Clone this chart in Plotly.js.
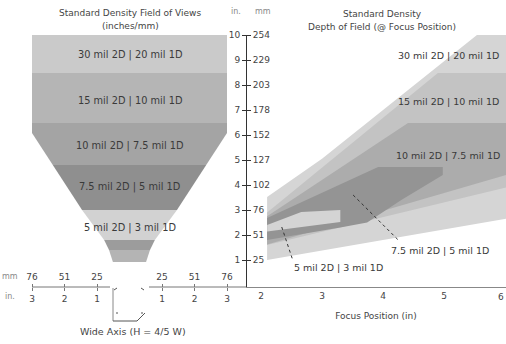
<!DOCTYPE html>
<html><head><meta charset="utf-8">
<script src="https://cdn.plot.ly/plotly-3.0.1.min.js"></script>
<style>html,body{margin:0;padding:0;background:#fff}#chart{width:506px;height:344px}</style>
</head><body><div id="chart"></div>
<script>
// ---------------- data ----------------
const densityLabels = ['30 mil 2D | 20 mil 1D', '15 mil 2D | 10 mil 1D', '10 mil 2D | 7.5 mil 1D', '7.5 mil 2D | 5 mil 1D', '5 mil 2D | 3 mil 1D'];

// Field of view funnel (height in inches, half-width in inches)
const fovBandTop    = [10, 8.48, 6.48, 4.8, 3.0, 1.8, 1.4];
const fovBandBottom = [8.48, 6.48, 4.8, 3.0, 1.8, 1.4, 0.92];
const fovBandColors = ['#cacaca', '#b5b5b5', '#a4a4a4', '#8f8f8f', '#d2d2d2', '#9c9c9c', '#b4b4b4'];
const fovProfileHeight    = [10, 6.08, 3.0, 1.8, 1.4, 0.92];
const fovProfileHalfWidth = [3.0, 3.0, 1.46, 0.78, 0.63, 0.51];

const widthTickVals = [-3, -2, -1, 1, 2, 3];
const widthTickIn   = ['3', '2', '1', '1', '2', '3'];
const widthTickMm   = ['76', '51', '25', '25', '51', '76'];

const heightTickVals = [1, 2, 3, 4, 5, 6, 7, 8, 9, 10];
const heightTickMm   = ['25', '51', '76', '102', '127', '152', '178', '203', '229', '254'];

const focusTickVals = [2, 3, 4, 5];
const focusLastTick = 6;

// Depth of field bands (x = focus position in, y = distance in)
const dof30X = [2.1, 2.1, 3.0, 5.54, 6.02, 6.02];
const dof30Y = [1.0, 3.52, 5.05, 10.0, 10.0, 2.65];
const dof15X = [2.1, 2.1, 4.9, 6.02, 6.02];
const dof15Y = [1.6, 2.9, 8.48, 8.48, 3.9];
const dof10X = [2.1, 2.1, 4.41, 6.02, 6.02];
const dof10Y = [1.62, 2.75, 6.48, 6.48, 4.4];
const dof75X = [2.1, 2.1, 3.92, 4.98, 4.98, 4.3, 3.74, 3.3];
const dof75Y = [1.8, 2.68, 4.72, 4.72, 4.4, 3.4, 2.5, 2.3];
const dof5X  = [2.1, 2.66, 3.3, 3.3, 2.1];
const dof5Y  = [2.4, 2.92, 3.0, 2.52, 2.14];
const dofColors = ['#d5d5d5', '#c3c3c3', '#acacac', '#949494', '#d4d4d4'];

// ---------------- helpers ----------------
const W = 506, H = 344;
const px = x => x / W;
const py = y => 1 - y / H;
function halfWidthAt(h) {
  for (let i = 0; i < fovProfileHeight.length - 1; i++) {
    const h0 = fovProfileHeight[i], h1 = fovProfileHeight[i + 1];
    if (h <= h0 && h >= h1) {
      const t = (h0 - h) / (h0 - h1);
      return fovProfileHalfWidth[i] + t * (fovProfileHalfWidth[i + 1] - fovProfileHalfWidth[i]);
    }
  }
  return fovProfileHalfWidth[fovProfileHalfWidth.length - 1];
}
function bandPolygon(bot, top) {
  const hs = [top];
  fovProfileHeight.forEach(h => { if (h < top && h > bot) hs.push(h); });
  hs.push(bot);
  const xs = [], ys = [];
  hs.forEach(h => { xs.push(-halfWidthAt(h)); ys.push(h); });
  hs.slice().reverse().forEach(h => { xs.push(halfWidthAt(h)); ys.push(h); });
  return {xs, ys};
}

const traces = [];
fovBandTop.forEach((t, i) => {
  const p = bandPolygon(fovBandBottom[i], t);
  traces.push({type: 'scatter', mode: 'lines', x: p.xs, y: p.ys, fill: 'toself',
    fillcolor: fovBandColors[i], line: {width: 0, color: fovBandColors[i]},
    xaxis: 'x', yaxis: 'y', hoverinfo: 'skip', showlegend: false});
});
[[dof30X, dof30Y], [dof15X, dof15Y], [dof10X, dof10Y], [dof75X, dof75Y], [dof5X, dof5Y]].forEach((d, i) => {
  traces.push({type: 'scatter', mode: 'lines', x: d[0], y: d[1], fill: 'toself',
    fillcolor: dofColors[i], line: {width: 0, color: dofColors[i]},
    xaxis: 'x2', yaxis: 'y', hoverinfo: 'skip', showlegend: false});
});
// invisible trace for the mm axes
traces.push({type: 'scatter', x: [0], y: [0], xaxis: 'x3', yaxis: 'y2', mode: 'markers', marker: {opacity: 0}, hoverinfo: 'skip', showlegend: false});

const FONT = 'DejaVu Sans, Verdana, sans-serif';
const txt = '#3a3a3a';
const tickFont = {family: FONT, size: 9, color: '#444'};
const yDom = [py(287), py(35)];
const yRange = [-0.08, 10];
const leftRange = [-129.5 / 32.5, (246 - 129.5) / 32.5];
const focusRange = [2 - 15 / 61, 2 + 245 / 61];

const ann = [];
function addText(text, x, y, size, color, anchor) {
  ann.push({text, x, y, xref: 'paper', yref: 'paper', showarrow: false,
    xanchor: anchor || 'center', yanchor: 'middle', font: {family: FONT, size: size || 9, color: color || txt}});
}
addText('Standard Density Field of Views', px(130), py(13), 9, '#444');
addText('(inches/mm)', px(130), py(26), 9, '#444');
addText('Standard Density', px(382), py(14), 9, '#444');
addText('Depth of Field (@ Focus Position)', px(382), py(27), 9, '#444');
addText('in.', px(236), py(12), 8, '#888');
addText('mm', px(263), py(12), 8, '#888');
addText('mm', px(10), py(276), 8, '#888');
addText('in.', px(10), py(296), 8, '#888');
addText('Wide Axis (H = 4/5 W)', px(133), py(331), 9.5, '#444');
// funnel labels
[55, 101, 146, 187, 228].forEach((y, i) => addText(densityLabels[i], px(129.5), py(y), 9.8));
// DOF labels
addText(densityLabels[0], px(501), py(55), 9.5, txt, 'right');
addText(densityLabels[1], px(501), py(101), 9.5, txt, 'right');
addText(densityLabels[2], px(502), py(155), 9.5, txt, 'right');
addText(densityLabels[3], px(440), py(250), 9.5);
addText(densityLabels[4], px(338), py(267), 9.5);
// last focus tick (sits at the page edge)
ann.push({text: String(focusLastTick), x: 1, xref: 'paper', y: py(297), yref: 'paper', showarrow: false,
  xanchor: 'right', yanchor: 'middle', font: tickFont});

const shapes = [
  // left width axis line segments
  {type: 'line', xref: 'x', yref: 'paper', x0: -3, x1: -0.6, y0: py(287), y1: py(287), line: {color: '#777', width: 1}},
  {type: 'line', xref: 'x', yref: 'paper', x0: 0.6, x1: leftRange[1], y0: py(287), y1: py(287), line: {color: '#777', width: 1}},
  // leader lines
  {type: 'line', xref: 'x2', yref: 'y', x0: 3.51, y0: 3.6, x1: 4.25, y1: 1.8, line: {color: '#333', width: 1, dash: 'dot'}},
  {type: 'line', xref: 'x2', yref: 'y', x0: 2.34, y0: 2.32, x1: 2.52, y1: 1.0, line: {color: '#333', width: 1, dash: 'dot'}},
  // bracket drawing
  {type: 'line', xref: 'paper', yref: 'paper', x0: px(113), y0: py(288), x1: px(113), y1: py(321), line: {color: '#888', width: 1}},
  {type: 'line', xref: 'paper', yref: 'paper', x0: px(113), y0: py(321), x1: px(137), y1: py(321), line: {color: '#555', width: 1}},
  {type: 'line', xref: 'paper', yref: 'paper', x0: px(137), y0: py(321), x1: px(145), y1: py(313), line: {color: '#555', width: 1}},
  {type: 'line', xref: 'paper', yref: 'paper', x0: px(114), y0: py(290), x1: px(117), y1: py(288), line: {color: '#555', width: 1}},
  {type: 'line', xref: 'paper', yref: 'paper', x0: px(141), y0: py(288), x1: px(144), y1: py(290), line: {color: '#555', width: 1}},
  {type: 'line', xref: 'paper', yref: 'paper', x0: px(116), y0: py(313), x1: px(118), y1: py(313), line: {color: '#555', width: 1}},
  {type: 'line', xref: 'paper', yref: 'paper', x0: px(141), y0: py(313), x1: px(143), y1: py(313), line: {color: '#555', width: 1}}
];

const layout = {
  width: W, height: H, margin: {l: 0, r: 0, t: 0, b: 0},
  paper_bgcolor: '#fff', plot_bgcolor: 'rgba(0,0,0,0)', showlegend: false,
  xaxis: {domain: [0, px(246)], range: leftRange, anchor: 'y', showgrid: false, zeroline: false, showline: false,
    tickvals: widthTickVals, ticktext: widthTickIn, ticks: 'outside', ticklen: 3, tickcolor: '#777', tickfont: tickFont, fixedrange: true},
  xaxis3: {overlaying: 'x', side: 'top', anchor: 'free', position: py(287), range: leftRange, showgrid: false, zeroline: false, showline: false,
    tickvals: widthTickVals, ticktext: widthTickMm, ticks: 'outside', ticklen: 3, tickcolor: '#777', tickfont: tickFont, fixedrange: true},
  xaxis2: {domain: [px(246), 1], range: focusRange, anchor: 'y', showgrid: false, zeroline: false, showline: true, linecolor: '#888', linewidth: 1,
    tickvals: focusTickVals, ticks: '', tickfont: tickFont,
    title: {text: 'Focus Position (in)', font: {family: FONT, size: 9, color: '#444'}, standoff: 12}, fixedrange: true},
  yaxis: {domain: yDom, range: yRange, anchor: 'free', position: px(246), side: 'left', showgrid: false, zeroline: false,
    showline: true, linecolor: '#333', linewidth: 1, tickvals: heightTickVals, ticks: 'outside', ticklen: 4, tickcolor: '#333', tickfont: tickFont, fixedrange: true},
  yaxis2: {overlaying: 'y', domain: yDom, range: yRange, anchor: 'free', position: px(246), side: 'right', showgrid: false, zeroline: false,
    showline: false, tickvals: heightTickVals, ticktext: heightTickMm, ticks: 'outside', ticklen: 4, tickcolor: '#333', tickfont: tickFont, fixedrange: true},
  annotations: ann, shapes: shapes
};
Plotly.newPlot('chart', traces, layout, {staticPlot: true, displayModeBar: false});
</script></body></html>
